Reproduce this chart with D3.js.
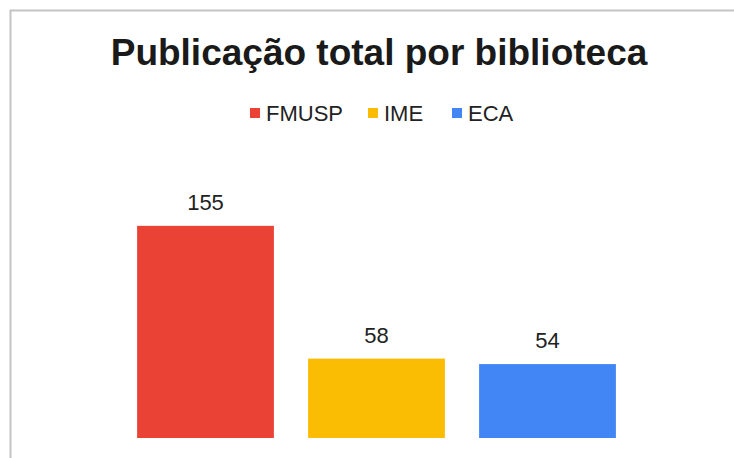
<!DOCTYPE html>
<html lang="pt">
<head>
  <meta charset="utf-8">
  <title>Publicação total por biblioteca</title>
  <script src="https://d3js.org/d3.v7.min.js"></script>
  <style>
    body { margin: 0; background: #fff; }
  </style>
</head>
<body>
	<script type="text/javascript">

		// Data
		var categories = ["FMUSP", "IME", "ECA"];
		var values = [155, 58, 54];
		var colors = ["#EA4335", "#FBBC04", "#4285F4"];

		var svg_width = 734;
		var svg_height = 458;

		var svg = d3.select("body")
					.append("svg")
					.attr("width", svg_width)
					.attr("height", svg_height)
					.style("font-family", "Liberation Sans, Arial, sans-serif");

		// frame (only left and top edges are visible in the crop)
		svg.append("path")
		   .attr("d", "M10.5," + svg_height + "V10.5H" + svg_width)
		   .attr("fill", "none")
		   .attr("stroke", "#c4c4c4")
		   .attr("stroke-width", 2);

		// Title
		svg.append("text")
		   .attr("x", 379)
		   .attr("y", 65)
		   .attr("text-anchor", "middle")
		   .attr("font-size", "37px")
		   .attr("font-weight", "bold")
		   .attr("fill", "#1a1a1a")
		   .text("Publicação total por biblioteca");

		// Scales
		var xScale = d3.scaleBand()
					   .domain(categories)
					   .range([120, 633])
					   .paddingInner(0.2)
					   .paddingOuter(0.1);

		var yScale = d3.scaleLinear()
					   .domain([0, 160])
					   .range([438, 219]);

		// Legend
		var legendX = [250, 368, 452];
		var legend = svg.selectAll("g.legend")
						.data(categories)
						.enter()
						.append("g")
						.attr("class", "legend")
						.attr("transform", function(d, i) { return "translate(" + legendX[i] + ",108)"; });

		legend.append("rect")
			  .attr("width", 10)
			  .attr("height", 10)
			  .attr("fill", function(d, i) { return colors[i]; });

		legend.append("text")
			  .attr("x", 16)
			  .attr("y", 13)
			  .attr("font-size", "22px")
			  .attr("fill", "#222")
			  .text(function(d) { return d; });

		// Bars
		svg.selectAll("rect.bar")
		   .data(values)
		   .enter()
			   .append("rect")
			   .attr("class", "bar")
			   .attr("x", function(d, i) { return xScale(categories[i]); })
			   .attr("y", function(d) { return yScale(d); })
			   .attr("width", xScale.bandwidth())
			   .attr("height", function(d) { return yScale(0) - yScale(d); })
			   .attr("fill", function(d, i) { return colors[i]; });

		// Value labels
		svg.selectAll("text.value")
		   .data(values)
		   .enter()
			   .append("text")
			   .attr("class", "value")
			   .attr("x", function(d, i) { return xScale(categories[i]) + xScale.bandwidth() / 2; })
			   .attr("y", function(d) { return yScale(d) - 16; })
			   .attr("text-anchor", "middle")
			   .attr("font-size", "22px")
			   .attr("fill", "#222")
			   .text(function(d) { return d; });

	</script>
</body>
</html>
